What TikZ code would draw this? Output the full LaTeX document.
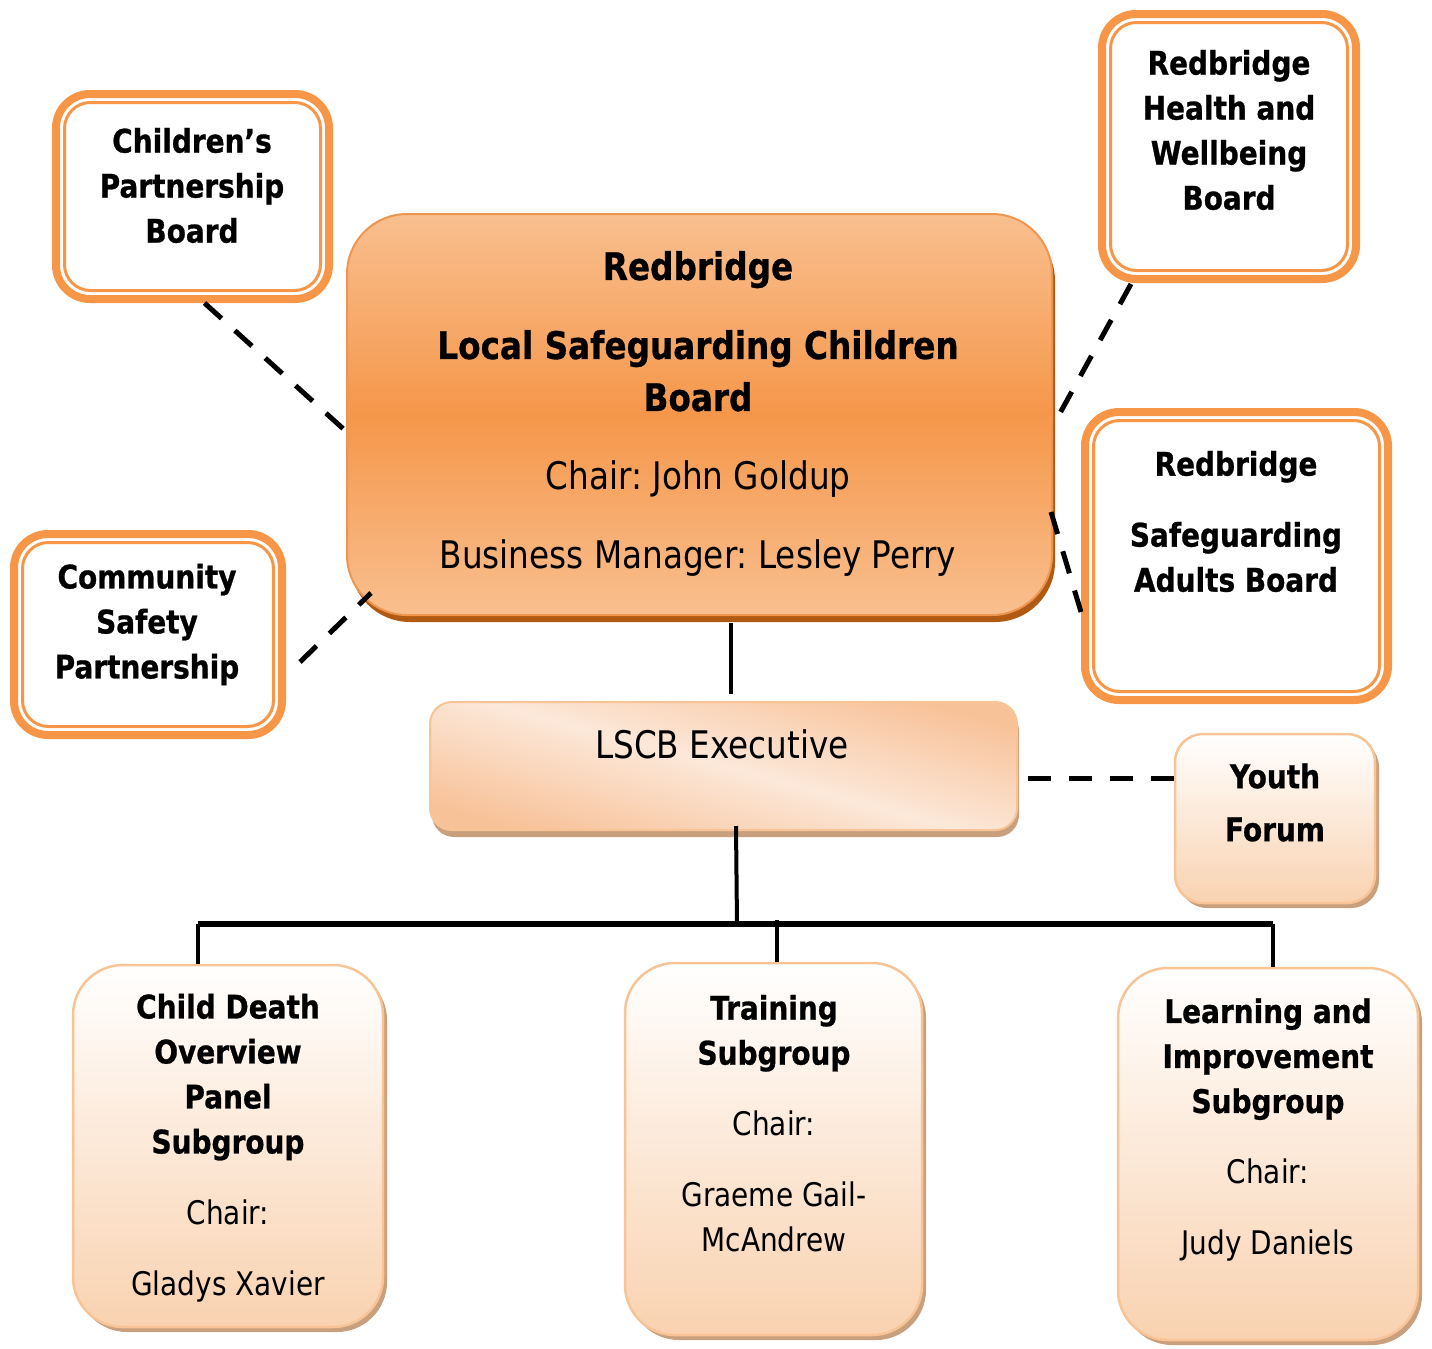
\documentclass[tikz,border=0pt]{standalone}
\usepackage{fontspec}
\setmainfont{DejaVu Sans}[FakeStretch=0.86,BoldFeatures={FakeStretch=0.86,FakeBold=0.8}]
\usepackage{tikz}
\usetikzlibrary{calc,shadows}
\definecolor{ring}{HTML}{F79646}
\definecolor{maintop}{HTML}{F9BF8F}
\definecolor{mainmid}{HTML}{F5974A}
\definecolor{mainline}{HTML}{EE9650}
\definecolor{mainshadow}{HTML}{B05A14}
\definecolor{peach}{HTML}{F9D2B0}
\definecolor{peachline}{HTML}{F8C496}
\definecolor{peachshadow}{HTML}{C9A07E}
\definecolor{execlight}{HTML}{FCE8D9}
\definecolor{execdark}{HTML}{F8C299}
\frenchspacing

\begin{document}
\begin{tikzpicture}[x=1pt,y=1pt,% one unit is one pixel of the layout
		every node/.style={
			align=center,		% so that "\\" breaks the lines
			inner sep=0pt
		},
		txt/.style={font=\fontsize{32.5}{45}\selectfont},
		bigtxt/.style={font=\fontsize{38}{52}\selectfont},
		ringbox/.style={rectangle,rounded corners=34pt,draw=ring,line width=8pt,fill=white},
		ringline/.style={draw=ring,line width=3pt,rounded corners=26pt},
		mainbox/.style={rectangle,rounded corners=60pt,draw=mainline,line width=2pt,
			top color=maintop,bottom color=maintop,middle color=mainmid,
			drop shadow={shadow xshift=3pt,shadow yshift=-7pt,fill=mainshadow,opacity=1}},
		execbox/.style={rectangle,rounded corners=22pt,draw=peachline,line width=2pt,
			shading=axis,top color=execdark,bottom color=execdark,middle color=execlight,shading angle=-15,
			drop shadow={shadow xshift=2pt,shadow yshift=-7pt,fill=peachshadow,opacity=1}},
		subbox/.style={rectangle,rounded corners=#1,draw=peachline,line width=2.5pt,
			top color=white,bottom color=peach,
			drop shadow={shadow xshift=4pt,shadow yshift=-5pt,fill=peachshadow,opacity=1}},
		every edge/.style={draw,line width=5pt},
		dashline/.style={dash pattern=on 23pt off 18pt}
	]
	\useasboundingbox (0,0) rectangle (1432,-1349);

	% boards round the main board
	\node[ringbox,minimum width=273,minimum height=205](R2) at (192.5,-196.5){};
	\node[ringbox,minimum width=268,minimum height=201](R3) at (148,-634.5){};
	\node[ringbox,minimum width=254,minimum height=265](R4) at (1229,-146.5){};
	\node[ringbox,minimum width=303,minimum height=288](R5) at (1236.5,-556){};
	\foreach \n in {R2,R3,R4,R5}
		\draw[ringline] ($(\n.south west)+(12.5,12.5)$) rectangle ($(\n.north east)+(-12.5,-12.5)$);

	% main board, executive and subgroups
	\node[mainbox,minimum width=705,minimum height=401](R1) at (699.5,-414.5){};
	\node[execbox,minimum width=587,minimum height=128](R6) at (723.5,-766){};
	\node[subbox=28pt,minimum width=200,minimum height=169](R7) at (1275,-818.5){};
	\node[subbox=50pt,minimum width=310,minimum height=362](R8) at (228,-1146){};
	\node[subbox=50pt,minimum width=297,minimum height=372](R9) at (773.5,-1149){};
	\node[subbox=50pt,minimum width=300,minimum height=372](R10) at (1268,-1154){};

	% texts
	\node[bigtxt](T1) at (698,-414){\textbf{Redbridge}\\[27pt]\textbf{Local Safeguarding Children}\\\textbf{Board}\\[27pt]Chair: John Goldup\\[27pt]Business Manager: Lesley Perry};
	\node[txt](T2) at (192,-185.5){\textbf{Children’s}\\\textbf{Partnership}\\\textbf{Board}};
	\node[txt](T3) at (147,-624.5){\textbf{Community}\\\textbf{Safety}\\\textbf{Partnership}};
	\node[txt](T4) at (1229,-130){\textbf{Redbridge}\\\textbf{Health and}\\\textbf{Wellbeing}\\\textbf{Board}};
	\node[txt](T5) at (1236,-521.5){\textbf{Redbridge}\\[26pt]\textbf{Safeguarding}\\\textbf{Adults Board}};
	\node[bigtxt](T6) at (722,-744){LSCB Executive};
	\node[txt](T7) at (1275,-802.5){\textbf{Youth}\\[8pt]\textbf{Forum}};
	\node[txt](T8) at (228,-1148){\textbf{Child Death}\\\textbf{Overview}\\\textbf{Panel}\\\textbf{Subgroup}\\[26pt]Chair:\\[26pt]Gladys Xavier};
	\node[txt](T9) at (774,-1123.5){\textbf{Training}\\\textbf{Subgroup}\\[26pt]Chair:\\[26pt]Graeme Gail-\\McAndrew};
	\node[txt](T10) at (1268,-1130){\textbf{Learning and}\\\textbf{Improvement}\\\textbf{Subgroup}\\[26pt]Chair:\\[26pt]Judy Daniels};

	% links
	\coordinate (hub) at (737,-925);
	\path
		($(R2.south)+(12,0)$) edge[dashline] ($(R1.west)+(-2,-15)$)
		($(R3.east)+(14,-27.5)$) edge[dashline] ($(R1.south west)+(25,23)$)
		($(R4.south)+(-98,-1)$) edge[dashline] ($(R1.east)+(1,-9.5)$)
		($(R1.east)+(-2,-97.5)$) edge[dashline] ($(R5.west)+(0,-56)$)
		($(R1.south)+(31.5,-7)$) edge[line width=4pt] ($(R6.north)+(7.5,7)$)
		($(R6.east)+(10,-12)$) edge[dashline] ($(R7.west)+(0,40.5)$)
		($(R6.south)+(12.5,5)$) edge[line width=4pt] (hub)
		($(R8.north)+(-30,40)$) edge[line width=6pt] ($(R10.north)+(5,43)$)
		;
	\foreach \n/\dx/\dy in {R8/-30/40,R9/3.5/42,R10/5/43}
		\path ($(\n.north)+(\dx,0)$) edge[line width=4pt] ($(\n.north)+(\dx,\dy)$);
\end{tikzpicture}
\end{document}
